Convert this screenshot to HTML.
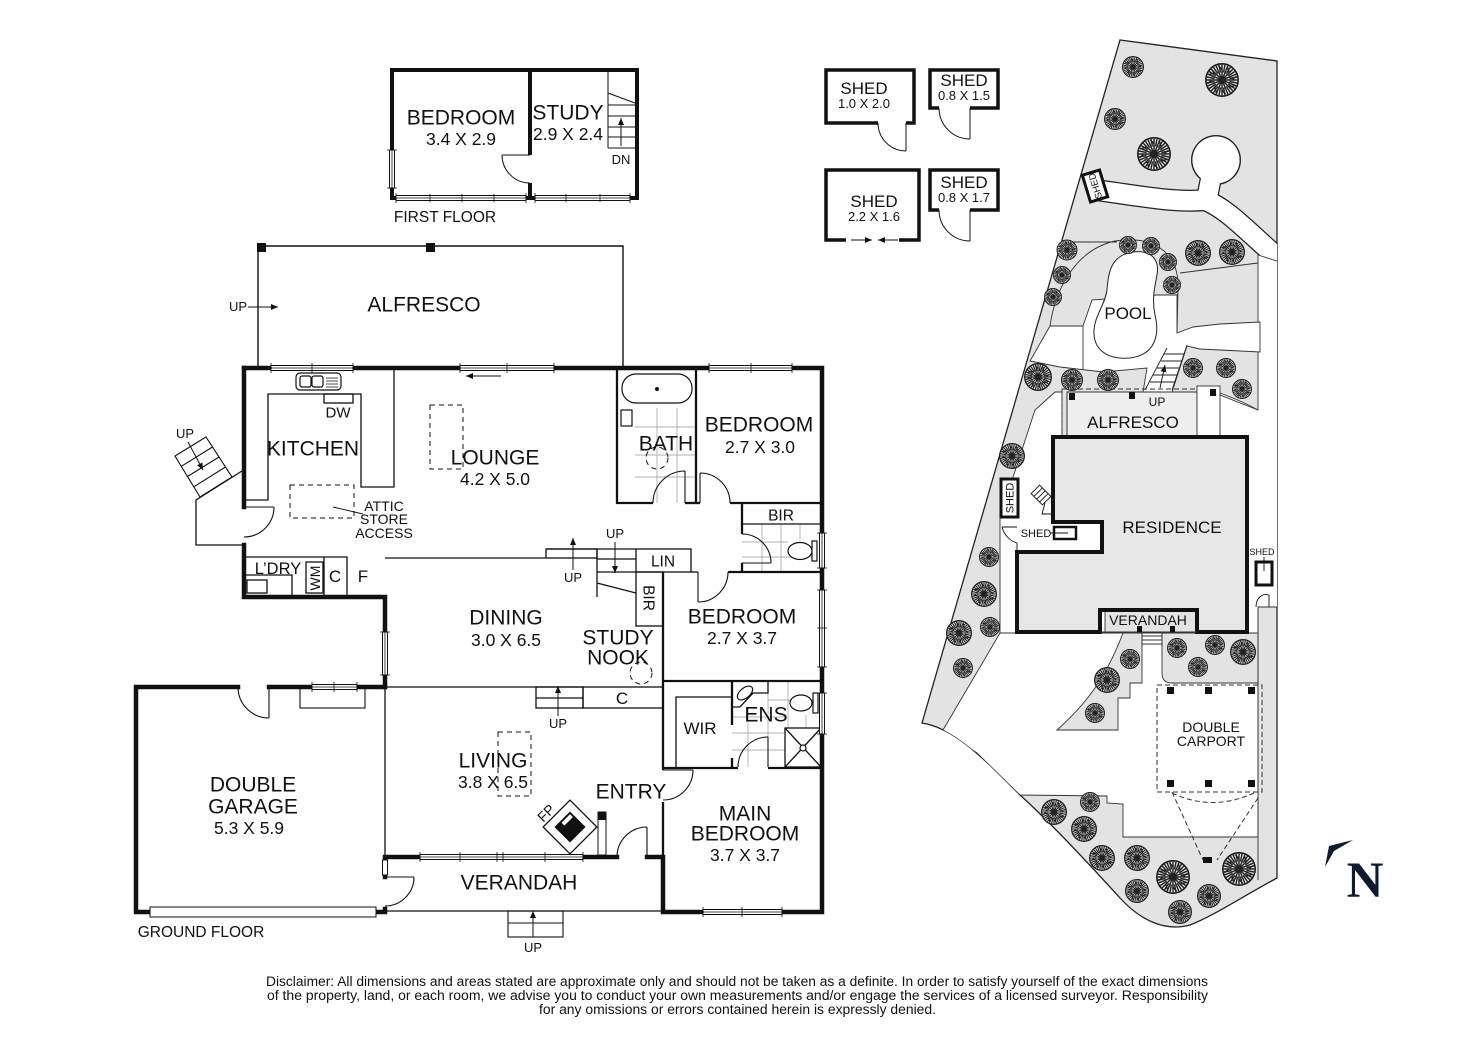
<!DOCTYPE html>
<html><head><meta charset="utf-8"><style>
html,body{margin:0;padding:0;background:#fff;}
svg{display:block;}
text{font-family:"Liberation Sans",Arial,sans-serif;fill:#111;}
</style></head><body>
<svg width="1472" height="1040" viewBox="0 0 1472 1040" xmlns="http://www.w3.org/2000/svg">
<defs>
<marker id="ah" markerUnits="userSpaceOnUse" markerWidth="7" markerHeight="6" refX="7" refY="3" orient="auto"><path d="M0,0 L7,3 L0,6 Z" fill="#111"/></marker>
<g id="tr">
<circle r="9.5" fill="#ececec" stroke="#1a1a1a" stroke-width="0.95"/>
<path d="M0,0L9,0M0,0L8.31,3.44M0,0L6.36,6.36M0,0L3.44,8.31M0,0L0,9M0,0L-3.44,8.31M0,0L-6.36,6.36M0,0L-8.31,3.44M0,0L-9,0M0,0L-8.31,-3.44M0,0L-6.36,-6.36M0,0L-3.44,-8.31M0,0L0,-9M0,0L3.44,-8.31M0,0L6.36,-6.36M0,0L8.31,-3.44M4.41,0.88L8.83,1.76M3.74,2.5L7.48,5M2.5,3.74L5,7.48M0.88,4.41L1.76,8.83M-4.41,0.88L-8.83,1.76M-3.74,2.5L-7.48,5M-2.5,3.74L-5,7.48M-0.88,4.41L-1.76,8.83M4.41,-0.88L8.83,-1.76M3.74,-2.5L7.48,-5M2.5,-3.74L5,-7.48M0.88,-4.41L1.76,-8.83M-4.41,-0.88L-8.83,-1.76M-3.74,-2.5L-7.48,-5M-2.5,-3.74L-5,-7.48M-0.88,-4.41L-1.76,-8.83M6,0L8.5,-2.2M4.2,4.2L7.6,3.2M0,6L2.2,8.5M-4.2,4.2L-3.2,7.6M-6,0L-8.5,2.2M-4.2,-4.2L-7.6,-3.2M0,-6L-2.2,-8.5M4.2,-4.2L3.2,-7.6" stroke="#222" stroke-width="0.85" fill="none"/>
</g>
<clipPath id="lotclip"><path d="M1120,40 L1277,61 L1277,878 C1240,898 1215,915 1190,925 C1165,932 1140,920 1120,898 C1090,865 1050,822 1020,795 C985,760 955,728 922,723 Z"/></clipPath>
</defs>

<!-- ================= SITE PLAN ================= -->
<path d="M1120,40 L1277,61 L1277,878 C1240,898 1215,915 1190,925 C1165,932 1140,920 1120,898 C1090,865 1050,822 1020,795 C985,760 955,728 922,723 Z" fill="#e3e3e3" stroke="#222" stroke-width="1.3"/>
<g clip-path="url(#lotclip)">
  <g fill="none" stroke="#222" stroke-linecap="butt">
    <path d="M1096,190 C1140,196 1175,203 1205,200 C1230,210 1250,235 1292,270" stroke-width="22"/>
    <path d="M1207,198 L1213,168" stroke-width="22"/>
  </g>
  <circle cx="1216" cy="160" r="25" fill="#222"/>
  <g fill="none" stroke="#fff" stroke-linecap="butt">
    <path d="M1096,190 C1140,196 1175,203 1205,200 C1230,210 1250,235 1292,270" stroke-width="19.5"/>
    <path d="M1207,198 L1213,168" stroke-width="19.5"/>
  </g>
  <circle cx="1216" cy="160" r="23.6" fill="#fff"/>
  <polygon points="1258,255 1280,262 1280,607 1258,607 1258,633 1243,633 1243,437 1197,437 1197,386 1258,410" fill="#fff" stroke="#333" stroke-width="0.9"/>
  <polygon points="1050,326 1083,326 1092,300 1157,295 1177,295 1177,333 1193,327 1220,324 1260,322 1260,352 1200,349 1187,346 1172,392 1143,392 1147,368 1103,372 1060,367 1030,361" fill="#fff" stroke="#333" stroke-width="0.9"/>
  <polygon points="1000,636 1000,517 1035,410 1055,392 1062,392 1062,437 1105,437 1105,636" fill="#fff" stroke="#333" stroke-width="0.9"/>
  <polygon points="943,730 1000,633 1258,633 1258,837 1123,837 1123,804 1107,803 1107,796 1020,795 977,753" fill="#fff" stroke="#333" stroke-width="0.9"/>
  <path d="M1123,633 L1142,633 L1142,683 L1130,683 L1130,698 L1118,698 L1118,730 L1057,730 C1085,705 1105,680 1123,633 Z" fill="#e3e3e3" stroke="#333" stroke-width="0.9"/>
  <path d="M1162,633 L1258,633 L1258,683 L1172,683 Q1162,683 1162,673 Z" fill="#e3e3e3" stroke="#333" stroke-width="0.9"/>
  <path d="M1258,607 V880" stroke="#333" stroke-width="0.9"/>
</g>
<g fill="none" stroke="#333" stroke-width="0.9">
  <path d="M1050,326 C1055,290 1075,250 1115,241 C1150,235 1180,250 1178,290 L1177,333"/>
  <path d="M1062,242 H1117"/>
  <path d="M1180,273 L1258,263"/>
  <path d="M1083,326 V370"/>
  <path d="M1157,295 H1177"/>
  <path d="M1197,386 C1220,392 1240,400 1258,410"/>
</g>
<path d="M1133,252 C1150,250 1160,258 1157,275 C1154,290 1152,300 1155,315 C1160,335 1155,355 1130,358 C1105,360 1093,348 1094,330 C1095,315 1105,305 1107,290 C1108,275 1110,255 1133,252 Z" fill="#fff" stroke="#222" stroke-width="1"/>
<g stroke="#222" stroke-width="0.9" fill="none">
  <path d="M1167,348 L1145,390 M1187,345 L1172,390"/>
  <path d="M1164,354 H1184 M1161,361 H1182 M1157,368 H1179 M1153,375 H1177 M1150,382 H1175"/>
</g>
<path d="M1160,388 L1165,365" stroke="#111" stroke-width="0.9" marker-end="url(#ah)"/>

<g>
<use href="#tr" transform="translate(1133,67) scale(1.1)"/>
<use href="#tr" transform="translate(1222,80) scale(1.7)"/>
<use href="#tr" transform="translate(1115,119) scale(1.1)"/>
<use href="#tr" transform="translate(1154,154) scale(1.7)"/>
<use href="#tr" transform="translate(1067,250) scale(1.05)"/>
<use href="#tr" transform="translate(1062,275) scale(0.9)"/>
<use href="#tr" transform="translate(1053,297) scale(0.9)"/>
<use href="#tr" transform="translate(1128,245) scale(0.9)"/>
<use href="#tr" transform="translate(1151,246) scale(0.9)"/>
<use href="#tr" transform="translate(1168,262) scale(0.9)"/>
<use href="#tr" transform="translate(1172,285) scale(0.9)"/>
<use href="#tr" transform="translate(1198,253) scale(1.3)"/>
<use href="#tr" transform="translate(1232,252) scale(1.3)"/>
<use href="#tr" transform="translate(1038,377) scale(1.4)"/>
<use href="#tr" transform="translate(1072,380) scale(1.1)"/>
<use href="#tr" transform="translate(1108,380) scale(1.1)"/>
<use href="#tr" transform="translate(1193,368) scale(1.0)"/>
<use href="#tr" transform="translate(1226,368) scale(1.0)"/>
<use href="#tr" transform="translate(1242,389) scale(1.0)"/>
<use href="#tr" transform="translate(1012,456) scale(1.3)"/>
<use href="#tr" transform="translate(989,557) scale(1.0)"/>
<use href="#tr" transform="translate(984,594) scale(1.3)"/>
<use href="#tr" transform="translate(959,633) scale(1.3)"/>
<use href="#tr" transform="translate(990,627) scale(1.0)"/>
<use href="#tr" transform="translate(963,668) scale(1.0)"/>
<use href="#tr" transform="translate(1130,659) scale(1.0)"/>
<use href="#tr" transform="translate(1107,680) scale(1.3)"/>
<use href="#tr" transform="translate(1095,713) scale(1.0)"/>
<use href="#tr" transform="translate(1177,648) scale(1.0)"/>
<use href="#tr" transform="translate(1215,645) scale(1.0)"/>
<use href="#tr" transform="translate(1243,652) scale(1.3)"/>
<use href="#tr" transform="translate(1198,667) scale(1.0)"/>
<use href="#tr" transform="translate(1054,812) scale(1.3)"/>
<use href="#tr" transform="translate(1090,802) scale(1.0)"/>
<use href="#tr" transform="translate(1084,829) scale(1.3)"/>
<use href="#tr" transform="translate(1102,858) scale(1.3)"/>
<use href="#tr" transform="translate(1137,858) scale(1.3)"/>
<use href="#tr" transform="translate(1137,891) scale(1.2)"/>
<use href="#tr" transform="translate(1173,877) scale(1.7)"/>
<use href="#tr" transform="translate(1180,912) scale(1.2)"/>
<use href="#tr" transform="translate(1209,896) scale(1.2)"/>
<use href="#tr" transform="translate(1239,869) scale(1.7)"/>
</g>

<g transform="translate(1095,186) rotate(-17)">
  <rect x="-9" y="-14" width="18" height="28" fill="#fff" stroke="#111" stroke-width="3"/>
  <text transform="rotate(-90)" y="3.5" font-size="9.5" text-anchor="middle">SHED</text>
</g>

<rect x="1062" y="389" width="158" height="48" fill="none" stroke="#333" stroke-width="1" stroke-dasharray="5,3"/>
<rect x="1067" y="392" width="130" height="45" fill="#eeeeee" stroke="#333" stroke-width="1"/>
<rect x="1197" y="386" width="23" height="51" fill="#fff" stroke="#333" stroke-width="0.9"/>
<rect x="1069" y="393" width="6" height="7" fill="#111"/>
<rect x="1129" y="392" width="6" height="7" fill="#111"/>
<rect x="1210" y="389" width="6" height="7" fill="#111"/>

<path d="M1053,437 H1247 V632 H1197 V610 H1100 V632 H1017 V552 H1102 V522 H1053 Z" fill="#e6e6e6" stroke="#111" stroke-width="4"/>
<path d="M1100,632 H1197" stroke="#333" stroke-width="1"/>
<rect x="1137" y="626" width="5" height="6" fill="#111"/>
<rect x="1170" y="626" width="5" height="6" fill="#111"/>
<path d="M1142,636 H1162 M1142,640 H1162 M1142,644 H1162 M1142,632 V646 M1162,632 V646" stroke="#333" stroke-width="0.9"/>
<rect x="1054" y="527" width="22" height="12" fill="#fff" stroke="#111" stroke-width="2.5"/>
<path d="M1050,533 H1068" stroke="#111" stroke-width="0.9"/>
<g transform="translate(1041,495) rotate(-45)" stroke="#111" stroke-width="0.9" fill="#fff">
  <rect x="-6" y="-8" width="12" height="16"/>
  <path d="M-6,-4 H6 M-6,0 H6 M-6,4 H6" fill="none"/>
</g>
<path d="M1045,503 L1042,514 H1053" fill="none" stroke="#111" stroke-width="0.9"/>
<rect x="1001" y="479" width="17" height="38" fill="#fff" stroke="#111" stroke-width="3"/>
<path d="M1002,527 H1017 M1002,527 C1004,535 1010,541 1017,543 V552" fill="none" stroke="#111" stroke-width="0.9"/>
<rect x="1256" y="562" width="16" height="23" fill="#fff" stroke="#111" stroke-width="3"/>
<path d="M1264,557 V571" stroke="#111" stroke-width="0.9"/>
<path d="M1256,607 C1256,598 1262,593 1269,595 V607" fill="none" stroke="#111" stroke-width="0.9"/>

<rect x="1157" y="685" width="105" height="107" fill="none" stroke="#333" stroke-width="1" stroke-dasharray="5,3"/>
<g fill="#111">
<rect x="1167" y="687" width="7" height="7"/><rect x="1205" y="687" width="7" height="7"/><rect x="1248" y="687" width="7" height="7"/>
<rect x="1167" y="780" width="7" height="7"/><rect x="1205" y="780" width="7" height="7"/><rect x="1248" y="780" width="7" height="7"/>
<rect x="1203" y="857" width="9" height="6"/>
</g>
<path d="M1172,792 L1203,860 M1258,798 L1217,860 M1172,793 Q1212,812 1254,793" fill="none" stroke="#333" stroke-width="1" stroke-dasharray="5,3"/>

<g text-anchor="middle">
<text x="1128" y="319" font-size="17">POOL</text>
<text x="1157" y="406" font-size="12">UP</text>
<text x="1133" y="428" font-size="17">ALFRESCO</text>
<text x="1172" y="533" font-size="17">RESIDENCE</text>
<text x="1036" y="537" font-size="11">SHED</text>
<text x="1262" y="555" font-size="9">SHED</text>
<text x="1148" y="625" font-size="14">VERANDAH</text>
<text x="1211" y="732" font-size="14">DOUBLE</text>
<text x="1211" y="746" font-size="14">CARPORT</text>
<text transform="translate(1009.5,498) rotate(-90)" y="4" font-size="11">SHED</text>
</g>

<polygon points="1353,840 1329,846 1325,867 1334,851" fill="#0f1a2e"/>
<text x="1365" y="897" font-size="51" font-weight="bold" text-anchor="middle" style="font-family:'Liberation Serif',serif;fill:#0f1a2e">N</text>

<!-- ================= SHEDS ================= -->
<g fill="none" stroke="#111">
  <path d="M878,123 H826 V70 H914 V123 H906" stroke-width="3.5"/>
  <path d="M906,123 V151 M878,123 A28,28 0 0 0 906,151" stroke-width="1"/>
  <path d="M939,108 H930 V70 H998 V108 H970" stroke-width="3.5"/>
  <path d="M970,108 V139 M939,108 A31,31 0 0 0 970,139" stroke-width="1"/>
  <path d="M846,240 H826 V170 H919 V240 H899" stroke-width="3.5"/>
  <path d="M939,210 H930 V170 H998 V210 H970" stroke-width="3.5"/>
  <path d="M970,210 V241 M939,210 A31,31 0 0 0 970,241" stroke-width="1"/>
</g>
<path d="M851,240 H872" stroke="#111" stroke-width="1" marker-end="url(#ah)"/>
<path d="M898,240 H878" stroke="#111" stroke-width="1" marker-end="url(#ah)"/>
<g text-anchor="middle">
<text x="864" y="94" font-size="17">SHED</text>
<text x="864" y="108" font-size="13">1.0 X 2.0</text>
<text x="964" y="86" font-size="17">SHED</text>
<text x="964" y="100" font-size="13">0.8 X 1.5</text>
<text x="874" y="207" font-size="17">SHED</text>
<text x="874" y="221" font-size="13">2.2 X 1.6</text>
<text x="964" y="188" font-size="17">SHED</text>
<text x="964" y="202" font-size="13">0.8 X 1.7</text>
</g>

<!-- ================= FIRST FLOOR ================= -->
<g fill="none" stroke="#111">
  <path d="M392,70 H637 V198 H392 Z" stroke-width="4"/>
  <path d="M530,70 V155 M530,183 V198" stroke-width="4"/>
  <path d="M502,155 H530 M502,155 A28,28 0 0 0 530,183" stroke-width="1"/>
  <path d="M608,72 V148 M608,105 H635 M608,116 H635 M608,127 H635 M608,137 H635 M608,148 H635 M608,93 L635,103" stroke-width="1"/>
</g>
<g fill="#fff" stroke="#111" stroke-width="1">
  <rect x="396" y="195.5" width="130" height="5"/>
  <rect x="535" y="195.5" width="95" height="5"/>
  <rect x="389.5" y="150" width="5" height="38"/>
</g>
<path d="M396,198 H526 M535,198 H630 M392,150 V188 M396,193 V203 M430,194 V202 M462,194 V202 M494,194 V202 M526,193 V203 M535,193 V203 M566,194 V202 M600,194 V202 M630,193 V203 M387,150 H397 M387,188 H397" stroke="#111" stroke-width="0.8" fill="none"/>
<path d="M621,146 V118" stroke="#111" stroke-width="1" marker-end="url(#ah)"/>
<g text-anchor="middle">
<text x="461" y="124.5" font-size="21">BEDROOM</text>
<text x="461" y="145" font-size="17.5">3.4 X 2.9</text>
<text x="568" y="119.5" font-size="21">STUDY</text>
<text x="568" y="140" font-size="17.5">2.9 X 2.4</text>
<text x="621" y="164" font-size="13">DN</text>
<text x="445" y="222" font-size="15.5">FIRST FLOOR</text>
</g>

<!-- ================= GROUND FLOOR ================= -->
<path d="M258,368 V246 H623 V368" fill="none" stroke="#111" stroke-width="1.4"/>
<rect x="257" y="243" width="9" height="9" fill="#111"/>
<rect x="426" y="243" width="9" height="9" fill="#111"/>
<path d="M248,307 H278" stroke="#111" stroke-width="1" marker-end="url(#ah)"/>

<g stroke="#999" stroke-width="0.7" fill="none">
  <path d="M657,408 V503 M677,408 V503 M635,427 H696 M635,455 H696 M635,477 H696"/>
  <path d="M762,524 V572 M781,524 V572 M800,524 V540 M742,542 H788 M742,557 H818"/>
  <path d="M748,707 V767 M768,681 V737 M788,681 V728 M806,715 V728 M732,717 H785 M732,733 H785 M732,750 H785 M768,700 H822"/>
</g>

<g fill="none" stroke="#111" stroke-width="4.5" stroke-linecap="square">
  <path d="M244,368 H822 V912 H663 V857 H647"/>
  <path d="M617,857 H385 V877"/>
  <path d="M244,368 V507"/>
  <path d="M244,545 V597 H385 V687"/>
  <path d="M385,687 H269"/>
  <path d="M238,687 H136 V912 H150"/>
  <path d="M376,912 H385 V909"/>
</g>
<g fill="none" stroke="#111" stroke-width="2.3">
  <path d="M617,368 V503 H653"/>
  <path d="M685,503 H700"/>
  <path d="M696,368 V503"/>
  <path d="M730,503 H822"/>
  <path d="M742,503 V534 M742,563 V572"/>
  <path d="M728,572 H822"/>
  <path d="M663,572 V770 M663,802 V857"/>
  <path d="M663,681 H822"/>
  <path d="M732,681 V725 M732,758 V768"/>
  <path d="M663,768 H738 M768,768 H822"/>
</g>
<g fill="none" stroke="#111" stroke-width="1.3">
  <path d="M385,687 V857"/>
  <path d="M385,911 H663"/>
  <path d="M742,524 H820"/>
  <rect x="636" y="549" width="55" height="23"/>
  <rect x="636" y="572" width="27" height="54"/>
  <path d="M691,572 H698"/>
  <path d="M546,549 H636 M597,549 V597 M597,559 H636 M597,572 H636 M597,583 L636,593"/>
  <rect x="546" y="549" width="51" height="9"/>
  <path d="M385,558 H546"/>
  <path d="M385,687 H583"/>
  <rect x="536" y="687" width="47" height="21"/>
  <path d="M536,698 H583"/>
  <rect x="583" y="687" width="80" height="21"/>
  <path d="M244,557 H347 V597 M324,557 V597"/>
  <rect x="306" y="562" width="17" height="31"/>
  <path d="M244,575 H292 V597"/>
  <rect x="247" y="580" width="20" height="13"/>
  <path d="M244,500 H268 V394 H361 V487 H394 V370"/>
  <rect x="324" y="394" width="29" height="9"/>
  <path d="M676,767 V697 H732"/>
  <path d="M732,681 H768 V693 H753 L740,707 H732"/>
  <rect x="785" y="728" width="36" height="39"/>
  <path d="M785,728 L821,767 M821,728 L785,767"/>
  <path d="M242,471 L196,500 V545 H244"/>
</g>
<g fill="#fff" stroke="#111" stroke-width="1.2">
  <rect x="622" y="374" width="70" height="29" rx="14"/>
  <rect x="621" y="410" width="11" height="16"/>
  <ellipse cx="800" cy="551" rx="12" ry="8.5"/>
  <rect x="812" y="541" width="5" height="20"/>
  <ellipse cx="801" cy="703" rx="11" ry="8"/>
  <rect x="813" y="693" width="5" height="20"/>
  <ellipse cx="745" cy="693" rx="9" ry="5" transform="rotate(-40 745 693)"/>
  <circle cx="803" cy="748" r="3"/>
  <rect x="296" y="373" width="45" height="17" rx="4"/>
  <rect x="300" y="376" width="11" height="11" rx="2"/>
  <rect x="312" y="376" width="11" height="11" rx="2"/>
</g>
<circle cx="657" cy="389" r="2" fill="#111"/>
<path d="M326,378 H338 M326,381 H338 M326,384 H338 M326,387 H338" stroke="#111" stroke-width="0.8"/>
<g fill="none" stroke="#111" stroke-width="1" stroke-dasharray="5,4">
  <rect x="430" y="405" width="33" height="64"/>
  <rect x="290" y="485" width="64" height="33"/>
  <rect x="498" y="732" width="33" height="64"/>
  <circle cx="657" cy="458" r="11"/>
  <circle cx="641" cy="673" r="11"/>
</g>
<path d="M333,507 L363,514" stroke="#111" stroke-width="0.9"/>

<g fill="none" stroke="#111" stroke-width="1.1">
  <path d="M175,456 L206,437 L232,477 L200,497 Z"/>
  <path d="M181.3,466.3 L212.5,447 M187.5,476.5 L219,457 M193.8,486.8 L225.5,467"/>
</g>
<path d="M188,442 L203,470" stroke="#111" stroke-width="1" marker-end="url(#ah)"/>

<g fill="none" stroke="#111" stroke-width="1.1">
  <path d="M685,503 V471 M685,471 A32,32 0 0 0 653,503"/>
  <path d="M700,503 V473 M700,473 A30,30 0 0 1 730,503"/>
  <path d="M742,563 H771 M771,563 A29,29 0 0 0 742,534"/>
  <path d="M698,572 V602 M698,602 A30,30 0 0 0 728,572"/>
  <path d="M768,767 V737 M768,737 A30,30 0 0 0 738,767"/>
  <path d="M663,770 H693 M693,770 A30,30 0 0 1 663,800"/>
  <path d="M647,857 V827 M647,827 A30,30 0 0 0 617,857"/>
  <path d="M385,877 H414 M414,877 A29,29 0 0 1 385,906"/>
  <path d="M269,687 V718 M269,718 A31,31 0 0 1 238,687"/>
  <path d="M244,507 H274 M274,507 A30,30 0 0 1 244,537"/>
</g>

<rect x="150" y="907" width="226" height="10" fill="#fff" stroke="#111" stroke-width="1"/>
<rect x="300" y="687" width="65" height="21" fill="none" stroke="#111" stroke-width="1.1"/>

<g fill="#fff" stroke="#111" stroke-width="1">
  <rect x="271" y="365.5" width="82" height="5"/>
  <rect x="460" y="365.5" width="94" height="5"/>
  <rect x="709" y="365.5" width="83" height="5"/>
  <rect x="312" y="684.5" width="45" height="5"/>
  <rect x="420" y="854.5" width="163" height="5"/>
  <rect x="703" y="909.5" width="79" height="5"/>
  <rect x="382.5" y="632" width="5" height="43"/>
  <rect x="382.5" y="860" width="5" height="15"/>
  <rect x="819.5" y="533" width="5" height="35"/>
  <rect x="819.5" y="590" width="5" height="77"/>
  <rect x="819.5" y="693" width="5" height="41"/>
</g>
<path d="M271,368 H353 M460,368 H554 M709,368 H792 M312,687 H357 M420,857 H583 M703,912 H782 M385,632 V675 M822,533 V568 M822,590 V667 M822,693 V734
M271,363 V373 M312,363 V373 M353,363 V373 M460,363 V373 M507,363 V373 M554,363 V373 M709,363 V373 M751,363 V373 M792,363 V373
M312,682 V692 M334,682 V692 M357,682 V692 M420,852 V862 M460,852 V862 M497,852 V862 M503,852 V862 M545,852 V862 M583,852 V862
M703,907 V917 M742,907 V917 M782,907 V917 M380,632 H390 M380,675 H390 M817,533 H827 M817,568 H827 M817,590 H827 M817,628 H827 M817,667 H827 M817,693 H827 M817,734 H827" stroke="#111" stroke-width="0.8" fill="none"/>

<g transform="translate(570,827) rotate(45)">
  <rect x="-19" y="-19" width="38" height="38" fill="#fff" stroke="#111" stroke-width="1.3"/>
  <rect x="-11" y="-11" width="22" height="22" fill="#111"/>
  <rect x="-9" y="-9" width="4" height="12" fill="#fff"/>
</g>
<rect x="598" y="812" width="8" height="43" fill="#fff" stroke="#111" stroke-width="1"/>
<rect x="598" y="812" width="8" height="8" fill="#111"/>

<g fill="none" stroke="#111" stroke-width="1.1">
  <rect x="508" y="911" width="55" height="26"/>
  <path d="M508,923 H563"/>
</g>
<g stroke="#111" stroke-width="1">
  <path d="M501,376 H466" marker-end="url(#ah)"/>
  <path d="M573,570 V538" marker-end="url(#ah)"/>
  <path d="M615,542 V573" marker-end="url(#ah)"/>
  <path d="M558,716 V686" marker-end="url(#ah)"/>
  <path d="M533,937 V911" marker-end="url(#ah)"/>
</g>

<g text-anchor="middle">
<text x="424" y="311.5" font-size="21">ALFRESCO</text>
<text x="238" y="311" font-size="13">UP</text>
<text x="313" y="455.5" font-size="21">KITCHEN</text>
<text x="338" y="417.5" font-size="15">DW</text>
<text x="495" y="464.5" font-size="21">LOUNGE</text>
<text x="495" y="485" font-size="17.5">4.2 X 5.0</text>
<text x="384" y="511" font-size="14">ATTIC</text>
<text x="384" y="524" font-size="14">STORE</text>
<text x="384" y="538" font-size="14">ACCESS</text>
<text x="185" y="438" font-size="13">UP</text>
<text x="278" y="574" font-size="16.5">L’DRY</text>
<text transform="translate(315,578) rotate(-90)" y="5" font-size="14">WM</text>
<text x="335" y="582" font-size="17">C</text>
<text x="363" y="582" font-size="17">F</text>
<text x="666" y="450.5" font-size="21">BATH</text>
<text x="759" y="431.5" font-size="21">BEDROOM</text>
<text x="760" y="453" font-size="17.5">2.7 X 3.0</text>
<text x="781" y="520.5" font-size="15.5">BIR</text>
<text x="663" y="566.5" font-size="15.5">LIN</text>
<text transform="translate(649,598) rotate(90)" y="5.5" font-size="15.5">BIR</text>
<text x="615" y="538" font-size="13">UP</text>
<text x="573" y="582" font-size="13">UP</text>
<text x="506" y="624.5" font-size="21">DINING</text>
<text x="506" y="646" font-size="17.5">3.0 X 6.5</text>
<text x="618" y="644.5" font-size="21">STUDY</text>
<text x="618" y="664.5" font-size="21">NOOK</text>
<text x="742" y="623.5" font-size="21">BEDROOM</text>
<text x="742" y="644" font-size="17.5">2.7 X 3.7</text>
<text x="622" y="704" font-size="17">C</text>
<text x="558" y="728" font-size="13">UP</text>
<text x="700" y="734" font-size="17">WIR</text>
<text x="766" y="721.5" font-size="21">ENS</text>
<text x="493" y="767.5" font-size="21">LIVING</text>
<text x="493" y="788" font-size="17.5">3.8 X 6.5</text>
<text x="631" y="798.5" font-size="21">ENTRY</text>
<text transform="translate(546,813) rotate(-45)" y="5" font-size="14">FP</text>
<text x="745" y="820.5" font-size="21">MAIN</text>
<text x="745" y="840.5" font-size="21">BEDROOM</text>
<text x="745" y="861" font-size="17.5">3.7 X 3.7</text>
<text x="519" y="889.5" font-size="21">VERANDAH</text>
<text x="533" y="952" font-size="13">UP</text>
<text x="253" y="791.5" font-size="21">DOUBLE</text>
<text x="253" y="813.5" font-size="21">GARAGE</text>
<text x="249" y="834" font-size="17.5">5.3 X 5.9</text>
<text x="201" y="937" font-size="15.5">GROUND FLOOR</text>
</g>

<g text-anchor="middle" font-size="13.5">
<text x="737" y="986" textLength="942" lengthAdjust="spacingAndGlyphs">Disclaimer: All dimensions and areas stated are approximate only and should not be taken as a definite. In order to satisfy yourself of the exact dimensions</text>
<text x="737.5" y="1000" textLength="941" lengthAdjust="spacingAndGlyphs">of the property, land, or each room, we advise you to conduct your own measurements and/or engage the services of a licensed surveyor. Responsibility</text>
<text x="737.5" y="1014" textLength="397" lengthAdjust="spacingAndGlyphs">for any omissions or errors contained herein is expressly denied.</text>
</g>
</svg>
</body></html>
